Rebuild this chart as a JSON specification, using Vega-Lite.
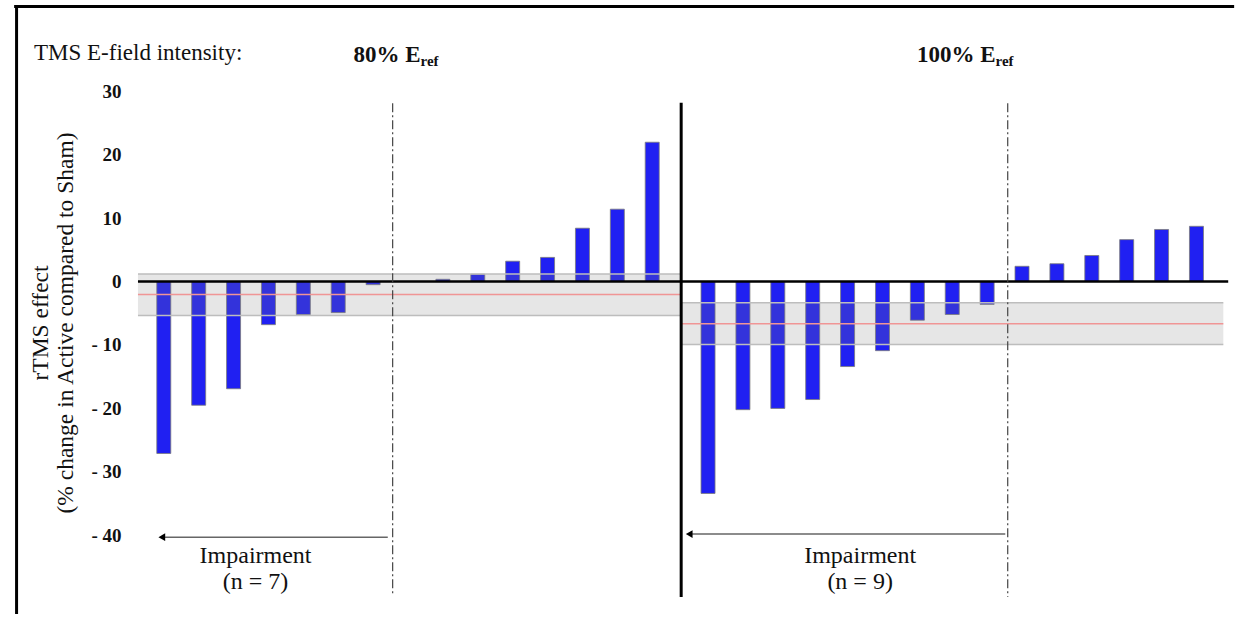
{
  "$schema": "https://vega.github.io/schema/vega-lite/v6.json",
  "width": 1095,
  "height": 600,
  "autosize": {"type": "none"},
  "padding": {"left": 135, "top": 10, "right": 9, "bottom": 4},
  "background": "white",
  "config": {"view": {"stroke": null}, "font": "Liberation Serif", "text": {"font": "Liberation Serif", "color": "#111111"}},
  "data": {"values": [{}]},
  "datasets": {
    "bars": [
      {"intensity": "80%", "subject": 1, "position": 1, "value": -27.1},
      {"intensity": "80%", "subject": 2, "position": 2, "value": -19.5},
      {"intensity": "80%", "subject": 3, "position": 3, "value": -16.9},
      {"intensity": "80%", "subject": 4, "position": 4, "value": -6.8},
      {"intensity": "80%", "subject": 5, "position": 5, "value": -5.2},
      {"intensity": "80%", "subject": 6, "position": 6, "value": -4.9},
      {"intensity": "80%", "subject": 7, "position": 7, "value": -0.5},
      {"intensity": "80%", "subject": 8, "position": 8, "value": 0},
      {"intensity": "80%", "subject": 9, "position": 9, "value": 0.35},
      {"intensity": "80%", "subject": 10, "position": 10, "value": 1.15},
      {"intensity": "80%", "subject": 11, "position": 11, "value": 3.2},
      {"intensity": "80%", "subject": 12, "position": 12, "value": 3.8},
      {"intensity": "80%", "subject": 13, "position": 13, "value": 8.4},
      {"intensity": "80%", "subject": 14, "position": 14, "value": 11.4},
      {"intensity": "80%", "subject": 15, "position": 15, "value": 21.95},
      {"intensity": "100%", "subject": 1, "position": 16.6, "value": -33.4},
      {"intensity": "100%", "subject": 2, "position": 17.6, "value": -20.2},
      {"intensity": "100%", "subject": 3, "position": 18.6, "value": -20.0},
      {"intensity": "100%", "subject": 4, "position": 19.6, "value": -18.6},
      {"intensity": "100%", "subject": 5, "position": 20.6, "value": -13.4},
      {"intensity": "100%", "subject": 6, "position": 21.6, "value": -10.9},
      {"intensity": "100%", "subject": 7, "position": 22.6, "value": -6.1},
      {"intensity": "100%", "subject": 8, "position": 23.6, "value": -5.2},
      {"intensity": "100%", "subject": 9, "position": 24.6, "value": -3.6},
      {"intensity": "100%", "subject": 10, "position": 25.6, "value": 2.4},
      {"intensity": "100%", "subject": 11, "position": 26.6, "value": 2.8},
      {"intensity": "100%", "subject": 12, "position": 27.6, "value": 4.1},
      {"intensity": "100%", "subject": 13, "position": 28.6, "value": 6.6},
      {"intensity": "100%", "subject": 14, "position": 29.6, "value": 8.2},
      {"intensity": "100%", "subject": 15, "position": 30.6, "value": 8.7}
    ],
    "bands": [
      {"intensity": "80%", "from": 0.26, "to": 15.8, "upper": 1.2, "lower": -5.36, "mean": -2.05},
      {"intensity": "100%", "from": 15.83, "to": 31.37, "upper": -3.36, "lower": -9.93, "mean": -6.67}
    ]
  },
  "resolve": {"axis": {"x": "independent", "y": "independent"}},
  "layer": [
    {
      "data": {"name": "bars"},
      "mark": {"type": "bar", "width": 14, "fill": "#2020f2", "stroke": "#7a7a7a", "strokeWidth": 0.8},
      "encoding": {
        "x": {"field": "position", "type": "quantitative", "scale": {"domain": [0.318, 31.418], "nice": false, "zero": false}, "axis": null},
        "y": {"field": "value", "type": "quantitative", "scale": {"domain": [-51.77, 42.79], "nice": false, "zero": false},
          "axis": {"values": [-40, -30, -20, -10, 0, 10, 20, 30], "labelExpr": "datum.value < 0 ? '- ' + abs(datum.value) : datum.label", "domain": false, "ticks": false, "grid": false, "labelPadding": 14, "labelFont": "Liberation Serif", "labelFontSize": 19, "labelFontWeight": "bold", "labelColor": "#111111", "title": null}},
        "y2": {"datum": 0}
      }
    },
    {
      "data": {"name": "bands"},
      "mark": {"type": "rect", "fill": "#828282", "fillOpacity": 0.2},
      "encoding": {
        "x": {"field": "from", "type": "quantitative", "axis": null},
        "x2": {"field": "to"},
        "y": {"field": "upper", "type": "quantitative", "axis": null},
        "y2": {"field": "lower"}
      }
    },
    {
      "data": {"name": "bands"},
      "mark": {"type": "rule", "color": "#bdbdbd", "strokeWidth": 1.5},
      "encoding": {
        "x": {"field": "from", "type": "quantitative", "axis": null},
        "x2": {"field": "to"},
        "y": {"field": "upper", "type": "quantitative", "axis": null}
      }
    },
    {
      "data": {"name": "bands"},
      "mark": {"type": "rule", "color": "#bdbdbd", "strokeWidth": 1.5},
      "encoding": {
        "x": {"field": "from", "type": "quantitative", "axis": null},
        "x2": {"field": "to"},
        "y": {"field": "lower", "type": "quantitative", "axis": null}
      }
    },
    {
      "data": {"name": "bands"},
      "mark": {"type": "rule", "color": "#f09595", "strokeWidth": 1.5},
      "encoding": {
        "x": {"field": "from", "type": "quantitative", "axis": null},
        "x2": {"field": "to"},
        "y": {"field": "mean", "type": "quantitative", "axis": null}
      }
    },
    {
      "mark": {"type": "rule", "color": "#000000", "strokeWidth": 2.5},
      "encoding": {"x": {"datum": 0.26, "type": "quantitative", "axis": null}, "x2": {"datum": 31.51}, "y": {"datum": 0, "type": "quantitative", "axis": null}}
    },
    {
      "mark": {"type": "rule", "color": "#000000", "strokeWidth": 3},
      "encoding": {"x": {"datum": 15.83, "type": "quantitative", "axis": null}, "y": {"datum": 28.18, "type": "quantitative", "axis": null}, "y2": {"datum": -49.72}}
    },
    {
      "mark": {"type": "rule", "color": "#444444", "strokeWidth": 1.2, "strokeDash": [9, 3, 2, 3]},
      "encoding": {"x": {"datum": 7.56, "type": "quantitative", "axis": null}, "y": {"datum": 28.1, "type": "quantitative", "axis": null}, "y2": {"datum": -49.4}}
    },
    {
      "mark": {"type": "rule", "color": "#444444", "strokeWidth": 1.2, "strokeDash": [9, 3, 2, 3]},
      "encoding": {"x": {"datum": 25.19, "type": "quantitative", "axis": null}, "y": {"datum": 28.1, "type": "quantitative", "axis": null}, "y2": {"datum": -49.72}}
    },
    {
      "mark": {"type": "rule", "color": "#666666", "strokeWidth": 1.5},
      "encoding": {"x": {"datum": 7.42, "type": "quantitative", "axis": null}, "x2": {"datum": 1.03}, "y": {"datum": -40.3, "type": "quantitative", "axis": null}}
    },
    {
      "mark": {"type": "point", "shape": "triangle-left", "filled": true, "color": "#000000", "size": 60, "opacity": 1},
      "encoding": {"x": {"datum": 0.943, "type": "quantitative", "axis": null}, "y": {"datum": -40.3, "type": "quantitative", "axis": null}}
    },
    {
      "mark": {"type": "rule", "color": "#666666", "strokeWidth": 1.5},
      "encoding": {"x": {"datum": 25.12, "type": "quantitative", "axis": null}, "x2": {"datum": 16.14}, "y": {"datum": -39.8, "type": "quantitative", "axis": null}}
    },
    {
      "mark": {"type": "point", "shape": "triangle-left", "filled": true, "color": "#000000", "size": 60, "opacity": 1},
      "encoding": {"x": {"datum": 16.06, "type": "quantitative", "axis": null}, "y": {"datum": -39.8, "type": "quantitative", "axis": null}}
    },
    {
      "mark": {"type": "rule", "color": "#000000", "strokeWidth": 3},
      "encoding": {"x": {"datum": -3.22, "type": "quantitative", "axis": null}, "y": {"datum": 43.58, "type": "quantitative", "axis": null}, "y2": {"datum": -53.35}}
    },
    {
      "mark": {"type": "rule", "color": "#000000", "strokeWidth": 3},
      "encoding": {"x": {"datum": -3.29, "type": "quantitative", "axis": null}, "x2": {"datum": 31.68}, "y": {"datum": 43.34, "type": "quantitative", "axis": null}}
    },
    {
      "mark": {"type": "text", "text": "TMS E-field intensity:", "align": "left", "baseline": "alphabetic", "fontSize": 23},
      "encoding": {"x": {"datum": -2.72, "type": "quantitative", "axis": null}, "y": {"datum": 34.91, "type": "quantitative", "axis": null}}
    },
    {
      "mark": {"type": "text", "text": "80% E", "align": "right", "baseline": "alphabetic", "fontSize": 23, "fontWeight": "bold"},
      "encoding": {"x": {"datum": 8.36, "type": "quantitative", "axis": null}, "y": {"datum": 34.64, "type": "quantitative", "axis": null}}
    },
    {
      "mark": {"type": "text", "text": "ref", "align": "left", "baseline": "alphabetic", "fontSize": 15, "fontWeight": "bold"},
      "encoding": {"x": {"datum": 8.36, "type": "quantitative", "axis": null}, "y": {"datum": 33.96, "type": "quantitative", "axis": null}}
    },
    {
      "mark": {"type": "text", "text": "100% E", "align": "right", "baseline": "alphabetic", "fontSize": 23, "fontWeight": "bold"},
      "encoding": {"x": {"datum": 24.84, "type": "quantitative", "axis": null}, "y": {"datum": 34.64, "type": "quantitative", "axis": null}}
    },
    {
      "mark": {"type": "text", "text": "ref", "align": "left", "baseline": "alphabetic", "fontSize": 15, "fontWeight": "bold"},
      "encoding": {"x": {"datum": 24.84, "type": "quantitative", "axis": null}, "y": {"datum": 33.96, "type": "quantitative", "axis": null}}
    },
    {
      "mark": {"type": "text", "text": "Impairment", "align": "center", "baseline": "alphabetic", "fontSize": 24},
      "encoding": {"x": {"datum": 3.63, "type": "quantitative", "axis": null}, "y": {"datum": -44.29, "type": "quantitative", "axis": null}}
    },
    {
      "mark": {"type": "text", "text": "(n = 7)", "align": "center", "baseline": "alphabetic", "fontSize": 24},
      "encoding": {"x": {"datum": 3.63, "type": "quantitative", "axis": null}, "y": {"datum": -48.5, "type": "quantitative", "axis": null}}
    },
    {
      "mark": {"type": "text", "text": "Impairment", "align": "center", "baseline": "alphabetic", "fontSize": 24},
      "encoding": {"x": {"datum": 20.96, "type": "quantitative", "axis": null}, "y": {"datum": -44.29, "type": "quantitative", "axis": null}}
    },
    {
      "mark": {"type": "text", "text": "(n = 9)", "align": "center", "baseline": "alphabetic", "fontSize": 24},
      "encoding": {"x": {"datum": 20.96, "type": "quantitative", "axis": null}, "y": {"datum": -48.5, "type": "quantitative", "axis": null}}
    },
    {
      "mark": {"type": "text", "text": "rTMS effect", "align": "center", "baseline": "alphabetic", "fontSize": 23.5, "angle": 270},
      "encoding": {"x": {"datum": -2.32, "type": "quantitative", "axis": null}, "y": {"datum": -6.54, "type": "quantitative", "axis": null}}
    },
    {
      "mark": {"type": "text", "text": "(% change in Active compared to Sham)", "align": "center", "baseline": "alphabetic", "fontSize": 23.5, "angle": 270},
      "encoding": {"x": {"datum": -1.61, "type": "quantitative", "axis": null}, "y": {"datum": -6.54, "type": "quantitative", "axis": null}}
    }
  ]
}
